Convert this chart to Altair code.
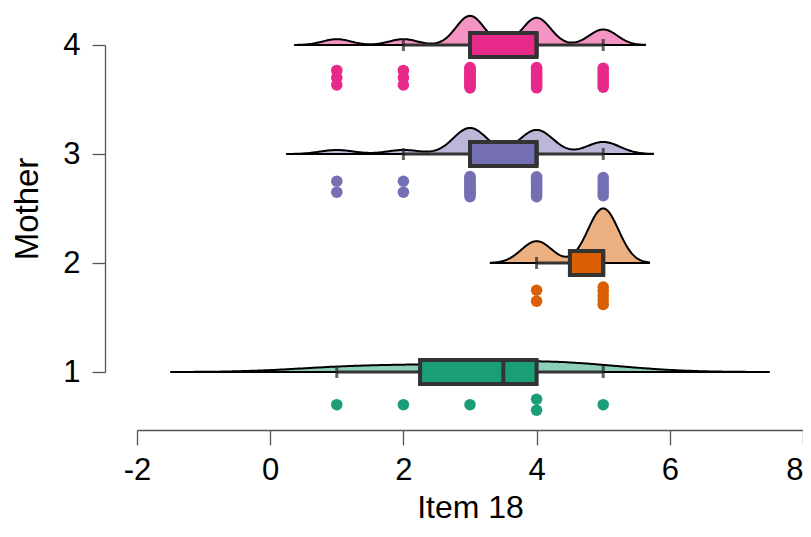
import altair as alt
import pandas as pd

# ---- data ----
scores = [1, 2, 3, 4, 5]
mothers = [1, 2, 3, 4]
counts_m1 = [1, 1, 1, 2, 1]
counts_m2 = [0, 0, 0, 2, 5]
counts_m3 = [2, 2, 13, 12, 6]
counts_m4 = [3, 3, 15, 14, 8]
bandwidths = [0.83, 0.23, 0.25, 0.21]
colors = ["#1B9E77", "#D95F02", "#7570B3", "#E7298A"]
light_colors = ["#8DCEBB", "#ECAF80", "#BAB7D9", "#F394C4"]
x_ticks = [-2, 0, 2, 4, 6, 8]
y_ticks = [1, 2, 3, 4]

counts = [counts_m1, counts_m2, counts_m3, counts_m4]
rows = []
for m, cs in zip(mothers, counts):
    for s, c in zip(scores, cs):
        for _ in range(c):
            rows.append({"mother": m, "value": s})
df = pd.DataFrame(rows)

FONT = "Liberation Sans"
K = 0.404  # density -> y units

xscale = alt.Scale(domain=[-2, 8], nice=False, zero=False, padding=0)
yscale = alt.Scale(domain=[1, 4], nice=False, zero=False, padding=0)
xaxis = alt.Axis(values=x_ticks, title="Item 18", offset=58, grid=False,
                 domainColor="#555555", domainWidth=1.3, tickColor="#555555",
                 tickWidth=1.3, tickSize=15, labelFontSize=31, labelFont=FONT,
                 labelColor="black", labelPadding=10, labelFlush=False,
                 labelAlign={"condition": {"test": "datum.value == 8", "value": "right"},
                             "value": "center"},
                 labelExpr="'' + datum.value", titleFontSize=32, titleFont=FONT,
                 titleFontWeight="normal", titleColor="black", titlePadding=7)
yaxis = alt.Axis(values=y_ticks, title="Mother", offset=32, grid=False,
                 domainColor="#555555", domainWidth=1.3, tickColor="#555555",
                 tickWidth=1.3, tickSize=13, labelFontSize=31, labelFont=FONT,
                 labelColor="black", labelPadding=12, labelFlush=False,
                 labelExpr="'' + datum.value", titleFontSize=33, titleFont=FONT,
                 titleFontWeight="normal", titleColor="black", titlePadding=18)


def X(f):
    return alt.X(f"{f}:Q", scale=xscale, axis=xaxis)


def Y(f):
    return alt.Y(f"{f}:Q", scale=yscale, axis=yaxis)


colorenc = alt.Color("mother:N", scale=alt.Scale(domain=mothers, range=colors), legend=None)

layers = []
for i, m in enumerate(mothers):
    bw = bandwidths[i]
    present = [s for s, c in zip(scores, counts[i]) if c > 0]
    lo, hi = min(present) - 3 * bw, max(present) + 3 * bw
    dens = (
        alt.Chart(df)
        .transform_filter(alt.datum.mother == m)
        .transform_density("value", groupby=["mother"], bandwidth=bw,
                           extent=[lo, hi], steps=300, as_=["value", "density"])
        .transform_calculate(top=f"datum.mother + datum.density * {K}")
        .mark_area(fill=light_colors[i], stroke="black", strokeWidth=2,
                   strokeJoin="round")
        .encode(x=X("value"), y=Y("top"), y2=alt.Y2("mother:Q"))
    )
    layers.append(dens)

stats = (
    alt.Chart(df)
    .transform_joinaggregate(q1="q1(value)", q3="q3(value)", med="median(value)",
                             groupby=["mother"])
    .transform_calculate(iqr="datum.q3 - datum.q1")
    .transform_filter("datum.value >= datum.q1 - 1.5 * datum.iqr && datum.value <= datum.q3 + 1.5 * datum.iqr")
    .transform_aggregate(lo="min(value)", hi="max(value)",
                         groupby=["mother", "q1", "q3", "med"])
)

whisker = stats.mark_rule(color="#333333", strokeWidth=3).encode(
    x=X("lo"), x2=alt.X2("hi:Q"), y=Y("mother"))
wticks = stats.transform_fold(["lo", "hi"], as_=["k", "v"]).mark_tick(
    orient="vertical", size=12, thickness=3, color="#222222").encode(
    x=X("v"), y=Y("mother"))
box = stats.mark_bar(size=24, orient="horizontal", stroke="#333333",
                     strokeWidth=4, opacity=1).encode(
    x=X("q1"), x2=alt.X2("q3:Q"), y=Y("mother"), color=colorenc)
median = stats.mark_tick(orient="vertical", size=24, thickness=4,
                         color="#333333", opacity=1).encode(x=X("med"), y=Y("mother"))

points = (
    alt.Chart(df)
    .transform_window(r="row_number()", groupby=["mother", "value"])
    .transform_joinaggregate(c="count()", groupby=["mother", "value"])
    .transform_calculate(
        ypt="datum.mother - 0.3 + ((datum.r - 0.5) / datum.c - 0.5) * 0.2")
    .mark_circle(size=133, opacity=1)
    .encode(x=X("value"), y=Y("ypt"), color=colorenc)
)

layers += [whisker, wticks, box, median, points]

chart = (
    alt.layer(*layers)
    .properties(width=666, height=327, autosize="none", background="white",
                padding={"left": 129, "top": 37, "right": 0, "bottom": 153})
    .configure_view(stroke=None, strokeWidth=0)
)

chart.save("out.html", embed_options={"renderer": "svg", "actions": False})
